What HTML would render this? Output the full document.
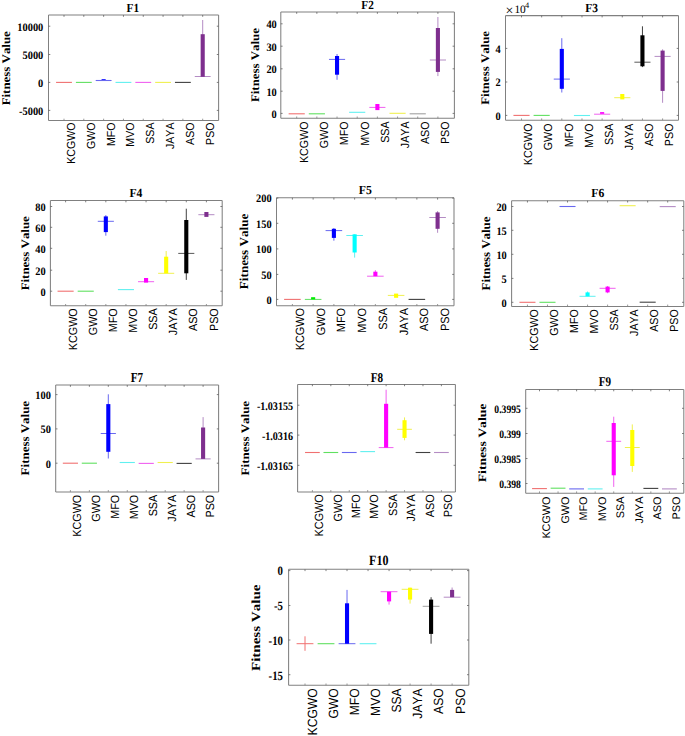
<!DOCTYPE html>
<html><head><meta charset="utf-8"><style>
html,body{margin:0;padding:0;background:#fff;}
svg{display:block;} text{font-kerning:none;text-rendering:geometricPrecision;}
.tk{font-family:"Liberation Serif",serif;font-weight:bold;font-size:10.4px;fill:#000;}
.ti{font-family:"Liberation Serif",serif;font-weight:bold;font-size:12.4px;fill:#000;}
.yl{font-family:"Liberation Serif",serif;font-weight:bold;font-size:12.92px;fill:#000;}
.xl{font-family:"Liberation Sans",sans-serif;font-size:10.75px;fill:#000;}
.ex{font-family:"Liberation Serif",serif;font-size:10px;fill:#000;}
</style></head><body>
<svg width="685" height="736" viewBox="0 0 685 736">
<rect width="685" height="736" fill="#fff"/>
<line x1="56.07" y1="82.4" x2="71.93" y2="82.4" stroke="#f07070" stroke-width="1.1"/>
<line x1="75.89" y1="82.4" x2="91.74" y2="82.4" stroke="#60e060" stroke-width="1.1"/>
<rect x="101.58" y="79.2" width="4.1" height="1.8" fill="#0000ff"/>
<line x1="95.7" y1="80.5" x2="111.55" y2="80.5" stroke="#6868f0" stroke-width="1.1"/>
<line x1="115.52" y1="82.4" x2="131.37" y2="82.4" stroke="#60f0f0" stroke-width="1.1"/>
<line x1="135.33" y1="82.4" x2="151.18" y2="82.4" stroke="#f060f0" stroke-width="1.1"/>
<line x1="155.15" y1="82.4" x2="171" y2="82.4" stroke="#f0f050" stroke-width="1.1"/>
<line x1="174.96" y1="82.4" x2="190.81" y2="82.4" stroke="#404040" stroke-width="1.1"/>
<line x1="202.7" y1="20" x2="202.7" y2="76.8" stroke="#b48cc4" stroke-width="1"/>
<line x1="194.77" y1="76.5" x2="210.63" y2="76.5" stroke="#b48cc4" stroke-width="1"/>
<rect x="200.65" y="34.2" width="4.1" height="42.6" fill="#7e2f8e"/>
<line x1="48.5" y1="15" x2="218.6" y2="15" stroke="#808080" stroke-width="1.05"/>
<line x1="218.6" y1="15" x2="218.6" y2="120.5" stroke="#808080" stroke-width="1.05"/>
<line x1="48.5" y1="120.5" x2="218.6" y2="120.5" stroke="#808080" stroke-width="1.05"/>
<line x1="48.5" y1="15" x2="48.5" y2="120.5" stroke="#808080" stroke-width="1.05"/>
<line x1="64" y1="120.5" x2="64" y2="118.7" stroke="#808080" stroke-width="0.8"/>
<line x1="64" y1="15" x2="64" y2="16.8" stroke="#606060" stroke-width="0.8"/>
<line x1="83.81" y1="120.5" x2="83.81" y2="118.7" stroke="#808080" stroke-width="0.8"/>
<line x1="83.81" y1="15" x2="83.81" y2="16.8" stroke="#606060" stroke-width="0.8"/>
<line x1="103.63" y1="120.5" x2="103.63" y2="118.7" stroke="#808080" stroke-width="0.8"/>
<line x1="103.63" y1="15" x2="103.63" y2="16.8" stroke="#606060" stroke-width="0.8"/>
<line x1="123.44" y1="120.5" x2="123.44" y2="118.7" stroke="#808080" stroke-width="0.8"/>
<line x1="123.44" y1="15" x2="123.44" y2="16.8" stroke="#606060" stroke-width="0.8"/>
<line x1="143.26" y1="120.5" x2="143.26" y2="118.7" stroke="#808080" stroke-width="0.8"/>
<line x1="143.26" y1="15" x2="143.26" y2="16.8" stroke="#606060" stroke-width="0.8"/>
<line x1="163.07" y1="120.5" x2="163.07" y2="118.7" stroke="#808080" stroke-width="0.8"/>
<line x1="163.07" y1="15" x2="163.07" y2="16.8" stroke="#606060" stroke-width="0.8"/>
<line x1="182.89" y1="120.5" x2="182.89" y2="118.7" stroke="#808080" stroke-width="0.8"/>
<line x1="182.89" y1="15" x2="182.89" y2="16.8" stroke="#606060" stroke-width="0.8"/>
<line x1="202.7" y1="120.5" x2="202.7" y2="118.7" stroke="#808080" stroke-width="0.8"/>
<line x1="202.7" y1="15" x2="202.7" y2="16.8" stroke="#606060" stroke-width="0.8"/>
<line x1="48.5" y1="26.2" x2="50.3" y2="26.2" stroke="#606060" stroke-width="0.8"/>
<line x1="218.6" y1="26.2" x2="216.8" y2="26.2" stroke="#606060" stroke-width="0.8"/>
<text class="tk" text-anchor="end" transform="translate(43.3,30.57) scale(1.0,1.1)">10000</text>
<line x1="48.5" y1="54.5" x2="50.3" y2="54.5" stroke="#606060" stroke-width="0.8"/>
<line x1="218.6" y1="54.5" x2="216.8" y2="54.5" stroke="#606060" stroke-width="0.8"/>
<text class="tk" text-anchor="end" transform="translate(43.3,58.87) scale(1.0,1.1)">5000</text>
<line x1="48.5" y1="82.4" x2="50.3" y2="82.4" stroke="#606060" stroke-width="0.8"/>
<line x1="218.6" y1="82.4" x2="216.8" y2="82.4" stroke="#606060" stroke-width="0.8"/>
<text class="tk" text-anchor="end" transform="translate(43.3,86.77) scale(1.0,1.1)">0</text>
<line x1="48.5" y1="110.4" x2="50.3" y2="110.4" stroke="#606060" stroke-width="0.8"/>
<line x1="218.6" y1="110.4" x2="216.8" y2="110.4" stroke="#606060" stroke-width="0.8"/>
<text class="tk" text-anchor="end" transform="translate(43.3,114.77) scale(1.0,1.1)">-5000</text>
<text class="xl" style="font-size:10.62px" text-anchor="end" transform="translate(75,122.5) rotate(-90) scale(1,1.1)">KCGWO</text>
<text class="xl" style="font-size:10.62px" text-anchor="end" transform="translate(94.81,122.5) rotate(-90) scale(1,1.1)">GWO</text>
<text class="xl" style="font-size:10.62px" text-anchor="end" transform="translate(114.63,122.5) rotate(-90) scale(1,1.1)">MFO</text>
<text class="xl" style="font-size:10.62px" text-anchor="end" transform="translate(134.44,122.5) rotate(-90) scale(1,1.1)">MVO</text>
<text class="xl" style="font-size:10.62px" text-anchor="end" transform="translate(154.26,122.5) rotate(-90) scale(1,1.1)">SSA</text>
<text class="xl" style="font-size:10.62px" text-anchor="end" transform="translate(174.07,122.5) rotate(-90) scale(1,1.1)">JAYA</text>
<text class="xl" style="font-size:10.62px" text-anchor="end" transform="translate(193.89,122.5) rotate(-90) scale(1,1.1)">ASO</text>
<text class="xl" style="font-size:10.62px" text-anchor="end" transform="translate(213.7,122.5) rotate(-90) scale(1,1.1)">PSO</text>
<text class="ti" text-anchor="middle" transform="translate(132.8,12.1) scale(0.91,1.0)">F1</text>
<text class="yl" style="font-size:12.92px" text-anchor="middle" transform="translate(10.2,68.25) rotate(-90) scale(1,0.9)">Fitness Value</text>
<line x1="288.63" y1="113.8" x2="304.77" y2="113.8" stroke="#f07070" stroke-width="1.1"/>
<line x1="308.8" y1="113.8" x2="324.94" y2="113.8" stroke="#60e060" stroke-width="1.1"/>
<line x1="337.04" y1="54" x2="337.04" y2="79.8" stroke="#6868f0" stroke-width="1"/>
<line x1="328.97" y1="59.4" x2="345.11" y2="59.4" stroke="#6868f0" stroke-width="1"/>
<rect x="334.99" y="56" width="4.1" height="18.7" fill="#0000ff"/>
<line x1="349.15" y1="112.3" x2="365.28" y2="112.3" stroke="#60f0f0" stroke-width="1.1"/>
<line x1="369.32" y1="107.4" x2="385.45" y2="107.4" stroke="#f060f0" stroke-width="1"/>
<rect x="375.34" y="104" width="4.1" height="6.1" fill="#ff00ff"/>
<line x1="389.49" y1="113.3" x2="405.63" y2="113.3" stroke="#f0f050" stroke-width="1.1"/>
<line x1="409.66" y1="113.8" x2="425.8" y2="113.8" stroke="#a0a0a0" stroke-width="1.1"/>
<line x1="437.9" y1="17" x2="437.9" y2="76.1" stroke="#b48cc4" stroke-width="1"/>
<line x1="429.83" y1="60" x2="445.97" y2="60" stroke="#b48cc4" stroke-width="1"/>
<rect x="435.85" y="28" width="4.1" height="43.9" fill="#7e2f8e"/>
<line x1="280.8" y1="12" x2="454.4" y2="12" stroke="#808080" stroke-width="1.05"/>
<line x1="454.4" y1="12" x2="454.4" y2="118.3" stroke="#808080" stroke-width="1.05"/>
<line x1="280.8" y1="118.3" x2="454.4" y2="118.3" stroke="#808080" stroke-width="1.05"/>
<line x1="280.8" y1="12" x2="280.8" y2="118.3" stroke="#808080" stroke-width="1.05"/>
<line x1="296.7" y1="118.3" x2="296.7" y2="116.5" stroke="#808080" stroke-width="0.8"/>
<line x1="296.7" y1="12" x2="296.7" y2="13.8" stroke="#606060" stroke-width="0.8"/>
<line x1="316.87" y1="118.3" x2="316.87" y2="116.5" stroke="#808080" stroke-width="0.8"/>
<line x1="316.87" y1="12" x2="316.87" y2="13.8" stroke="#606060" stroke-width="0.8"/>
<line x1="337.04" y1="118.3" x2="337.04" y2="116.5" stroke="#808080" stroke-width="0.8"/>
<line x1="337.04" y1="12" x2="337.04" y2="13.8" stroke="#606060" stroke-width="0.8"/>
<line x1="357.21" y1="118.3" x2="357.21" y2="116.5" stroke="#808080" stroke-width="0.8"/>
<line x1="357.21" y1="12" x2="357.21" y2="13.8" stroke="#606060" stroke-width="0.8"/>
<line x1="377.39" y1="118.3" x2="377.39" y2="116.5" stroke="#808080" stroke-width="0.8"/>
<line x1="377.39" y1="12" x2="377.39" y2="13.8" stroke="#606060" stroke-width="0.8"/>
<line x1="397.56" y1="118.3" x2="397.56" y2="116.5" stroke="#808080" stroke-width="0.8"/>
<line x1="397.56" y1="12" x2="397.56" y2="13.8" stroke="#606060" stroke-width="0.8"/>
<line x1="417.73" y1="118.3" x2="417.73" y2="116.5" stroke="#808080" stroke-width="0.8"/>
<line x1="417.73" y1="12" x2="417.73" y2="13.8" stroke="#606060" stroke-width="0.8"/>
<line x1="437.9" y1="118.3" x2="437.9" y2="116.5" stroke="#808080" stroke-width="0.8"/>
<line x1="437.9" y1="12" x2="437.9" y2="13.8" stroke="#606060" stroke-width="0.8"/>
<line x1="280.8" y1="23.8" x2="282.6" y2="23.8" stroke="#606060" stroke-width="0.8"/>
<line x1="454.4" y1="23.8" x2="452.6" y2="23.8" stroke="#606060" stroke-width="0.8"/>
<text class="tk" text-anchor="end" transform="translate(276.8,28.17) scale(1.0,1.1)">40</text>
<line x1="280.8" y1="46.2" x2="282.6" y2="46.2" stroke="#606060" stroke-width="0.8"/>
<line x1="454.4" y1="46.2" x2="452.6" y2="46.2" stroke="#606060" stroke-width="0.8"/>
<text class="tk" text-anchor="end" transform="translate(276.8,50.57) scale(1.0,1.1)">30</text>
<line x1="280.8" y1="68.8" x2="282.6" y2="68.8" stroke="#606060" stroke-width="0.8"/>
<line x1="454.4" y1="68.8" x2="452.6" y2="68.8" stroke="#606060" stroke-width="0.8"/>
<text class="tk" text-anchor="end" transform="translate(276.8,73.17) scale(1.0,1.1)">20</text>
<line x1="280.8" y1="91.2" x2="282.6" y2="91.2" stroke="#606060" stroke-width="0.8"/>
<line x1="454.4" y1="91.2" x2="452.6" y2="91.2" stroke="#606060" stroke-width="0.8"/>
<text class="tk" text-anchor="end" transform="translate(276.8,95.57) scale(1.0,1.1)">10</text>
<line x1="280.8" y1="113.4" x2="282.6" y2="113.4" stroke="#606060" stroke-width="0.8"/>
<line x1="454.4" y1="113.4" x2="452.6" y2="113.4" stroke="#606060" stroke-width="0.8"/>
<text class="tk" text-anchor="end" transform="translate(276.8,117.77) scale(1.0,1.1)">0</text>
<text class="xl" style="font-size:10.72px" text-anchor="end" transform="translate(308.1,121.4) rotate(-90) scale(1,1.1)">KCGWO</text>
<text class="xl" style="font-size:10.72px" text-anchor="end" transform="translate(328.27,121.4) rotate(-90) scale(1,1.1)">GWO</text>
<text class="xl" style="font-size:10.72px" text-anchor="end" transform="translate(348.44,121.4) rotate(-90) scale(1,1.1)">MFO</text>
<text class="xl" style="font-size:10.72px" text-anchor="end" transform="translate(368.61,121.4) rotate(-90) scale(1,1.1)">MVO</text>
<text class="xl" style="font-size:10.72px" text-anchor="end" transform="translate(388.79,121.4) rotate(-90) scale(1,1.1)">SSA</text>
<text class="xl" style="font-size:10.72px" text-anchor="end" transform="translate(408.96,121.4) rotate(-90) scale(1,1.1)">JAYA</text>
<text class="xl" style="font-size:10.72px" text-anchor="end" transform="translate(429.13,121.4) rotate(-90) scale(1,1.1)">ASO</text>
<text class="xl" style="font-size:10.72px" text-anchor="end" transform="translate(449.3,121.4) rotate(-90) scale(1,1.1)">PSO</text>
<text class="ti" text-anchor="middle" transform="translate(367.5,9.1) scale(0.91,1.0)">F2</text>
<text class="yl" style="font-size:12.87px" text-anchor="middle" transform="translate(258.9,65.1) rotate(-90) scale(1,0.9)">Fitness Value</text>
<line x1="513.44" y1="115.4" x2="529.56" y2="115.4" stroke="#f07070" stroke-width="1.1"/>
<line x1="533.59" y1="115.4" x2="549.72" y2="115.4" stroke="#60e060" stroke-width="1.1"/>
<line x1="561.81" y1="38.2" x2="561.81" y2="92.5" stroke="#6868f0" stroke-width="1"/>
<line x1="553.75" y1="79.1" x2="569.88" y2="79.1" stroke="#6868f0" stroke-width="1"/>
<rect x="559.76" y="48.9" width="4.1" height="39.9" fill="#0000ff"/>
<line x1="573.91" y1="115.5" x2="590.03" y2="115.5" stroke="#60f0f0" stroke-width="1.1"/>
<line x1="594.07" y1="114.2" x2="610.19" y2="114.2" stroke="#f060f0" stroke-width="1"/>
<rect x="600.08" y="112.1" width="4.1" height="1.7" fill="#ff00ff"/>
<line x1="614.22" y1="97.7" x2="630.35" y2="97.7" stroke="#f0f050" stroke-width="1"/>
<rect x="620.24" y="94" width="4.1" height="5.4" fill="#ffff00"/>
<line x1="642.44" y1="26.3" x2="642.44" y2="67.1" stroke="#404040" stroke-width="1"/>
<line x1="634.38" y1="62.2" x2="650.51" y2="62.2" stroke="#5a5a5a" stroke-width="1"/>
<rect x="640.39" y="35.3" width="4.1" height="31" fill="#000000"/>
<line x1="662.6" y1="49.3" x2="662.6" y2="102.8" stroke="#b48cc4" stroke-width="1"/>
<line x1="654.54" y1="56.4" x2="670.66" y2="56.4" stroke="#b48cc4" stroke-width="1"/>
<rect x="660.55" y="50.6" width="4.1" height="40.3" fill="#7e2f8e"/>
<line x1="505.5" y1="15.6" x2="678.5" y2="15.6" stroke="#808080" stroke-width="1.05"/>
<line x1="678.5" y1="15.6" x2="678.5" y2="120.2" stroke="#808080" stroke-width="1.05"/>
<line x1="505.5" y1="120.2" x2="678.5" y2="120.2" stroke="#808080" stroke-width="1.05"/>
<line x1="505.5" y1="15.6" x2="505.5" y2="120.2" stroke="#808080" stroke-width="1.05"/>
<line x1="521.5" y1="120.2" x2="521.5" y2="118.4" stroke="#808080" stroke-width="0.8"/>
<line x1="521.5" y1="15.6" x2="521.5" y2="17.4" stroke="#606060" stroke-width="0.8"/>
<line x1="541.66" y1="120.2" x2="541.66" y2="118.4" stroke="#808080" stroke-width="0.8"/>
<line x1="541.66" y1="15.6" x2="541.66" y2="17.4" stroke="#606060" stroke-width="0.8"/>
<line x1="561.81" y1="120.2" x2="561.81" y2="118.4" stroke="#808080" stroke-width="0.8"/>
<line x1="561.81" y1="15.6" x2="561.81" y2="17.4" stroke="#606060" stroke-width="0.8"/>
<line x1="581.97" y1="120.2" x2="581.97" y2="118.4" stroke="#808080" stroke-width="0.8"/>
<line x1="581.97" y1="15.6" x2="581.97" y2="17.4" stroke="#606060" stroke-width="0.8"/>
<line x1="602.13" y1="120.2" x2="602.13" y2="118.4" stroke="#808080" stroke-width="0.8"/>
<line x1="602.13" y1="15.6" x2="602.13" y2="17.4" stroke="#606060" stroke-width="0.8"/>
<line x1="622.29" y1="120.2" x2="622.29" y2="118.4" stroke="#808080" stroke-width="0.8"/>
<line x1="622.29" y1="15.6" x2="622.29" y2="17.4" stroke="#606060" stroke-width="0.8"/>
<line x1="642.44" y1="120.2" x2="642.44" y2="118.4" stroke="#808080" stroke-width="0.8"/>
<line x1="642.44" y1="15.6" x2="642.44" y2="17.4" stroke="#606060" stroke-width="0.8"/>
<line x1="662.6" y1="120.2" x2="662.6" y2="118.4" stroke="#808080" stroke-width="0.8"/>
<line x1="662.6" y1="15.6" x2="662.6" y2="17.4" stroke="#606060" stroke-width="0.8"/>
<line x1="505.5" y1="48.4" x2="507.3" y2="48.4" stroke="#606060" stroke-width="0.8"/>
<line x1="678.5" y1="48.4" x2="676.7" y2="48.4" stroke="#606060" stroke-width="0.8"/>
<text class="tk" text-anchor="end" transform="translate(500.7,52.77) scale(1.0,1.1)">4</text>
<line x1="505.5" y1="82" x2="507.3" y2="82" stroke="#606060" stroke-width="0.8"/>
<line x1="678.5" y1="82" x2="676.7" y2="82" stroke="#606060" stroke-width="0.8"/>
<text class="tk" text-anchor="end" transform="translate(500.7,86.37) scale(1.0,1.1)">2</text>
<line x1="505.5" y1="115.4" x2="507.3" y2="115.4" stroke="#606060" stroke-width="0.8"/>
<line x1="678.5" y1="115.4" x2="676.7" y2="115.4" stroke="#606060" stroke-width="0.8"/>
<text class="tk" text-anchor="end" transform="translate(500.7,119.77) scale(1.0,1.1)">0</text>
<text class="xl" style="font-size:10.72px" text-anchor="end" transform="translate(532.3,123.5) rotate(-90) scale(1,1.1)">KCGWO</text>
<text class="xl" style="font-size:10.72px" text-anchor="end" transform="translate(552.46,123.5) rotate(-90) scale(1,1.1)">GWO</text>
<text class="xl" style="font-size:10.72px" text-anchor="end" transform="translate(572.61,123.5) rotate(-90) scale(1,1.1)">MFO</text>
<text class="xl" style="font-size:10.72px" text-anchor="end" transform="translate(592.77,123.5) rotate(-90) scale(1,1.1)">MVO</text>
<text class="xl" style="font-size:10.72px" text-anchor="end" transform="translate(612.93,123.5) rotate(-90) scale(1,1.1)">SSA</text>
<text class="xl" style="font-size:10.72px" text-anchor="end" transform="translate(633.09,123.5) rotate(-90) scale(1,1.1)">JAYA</text>
<text class="xl" style="font-size:10.72px" text-anchor="end" transform="translate(653.24,123.5) rotate(-90) scale(1,1.1)">ASO</text>
<text class="xl" style="font-size:10.72px" text-anchor="end" transform="translate(673.4,123.5) rotate(-90) scale(1,1.1)">PSO</text>
<text class="ti" text-anchor="middle" transform="translate(591.7,12.1) scale(0.93,1.0)">F3</text>
<text class="yl" style="font-size:12.85px" text-anchor="middle" transform="translate(489,67.9) rotate(-90) scale(1,0.9)">Fitness Value</text>
<text x="505.6" y="14.9" class="ex" style="font-size:14px">&#215;</text>
<text x="514.4" y="12.9" class="ex" style="font-size:11.4px">10</text>
<text x="525.0" y="7.9" class="ex" style="font-size:8.4px">4</text>
<line x1="57.55" y1="291.2" x2="73.65" y2="291.2" stroke="#f07070" stroke-width="1.1"/>
<line x1="77.67" y1="291.2" x2="93.76" y2="291.2" stroke="#60e060" stroke-width="1.1"/>
<line x1="105.83" y1="215.1" x2="105.83" y2="235.7" stroke="#6868f0" stroke-width="1"/>
<line x1="97.78" y1="221.3" x2="113.87" y2="221.3" stroke="#6868f0" stroke-width="1"/>
<rect x="103.78" y="216.4" width="4.1" height="15.7" fill="#0000ff"/>
<line x1="117.9" y1="289.6" x2="133.99" y2="289.6" stroke="#60f0f0" stroke-width="1.1"/>
<line x1="138.01" y1="281.7" x2="154.1" y2="281.7" stroke="#f060f0" stroke-width="1"/>
<rect x="144.01" y="278" width="4.1" height="4.6" fill="#ff00ff"/>
<line x1="166.17" y1="251" x2="166.17" y2="273.3" stroke="#f0f050" stroke-width="1"/>
<line x1="158.13" y1="273.3" x2="174.22" y2="273.3" stroke="#f0f050" stroke-width="1"/>
<rect x="164.12" y="256.7" width="4.1" height="16.6" fill="#ffff00"/>
<line x1="186.29" y1="208.7" x2="186.29" y2="279.9" stroke="#404040" stroke-width="1"/>
<line x1="178.24" y1="253.4" x2="194.33" y2="253.4" stroke="#5a5a5a" stroke-width="1"/>
<rect x="184.24" y="220" width="4.1" height="53.3" fill="#000000"/>
<line x1="198.35" y1="214.7" x2="214.45" y2="214.7" stroke="#b48cc4" stroke-width="1"/>
<rect x="204.35" y="212" width="4.1" height="4.9" fill="#7e2f8e"/>
<line x1="50.4" y1="200.5" x2="222.2" y2="200.5" stroke="#808080" stroke-width="1.05"/>
<line x1="222.2" y1="200.5" x2="222.2" y2="305.8" stroke="#808080" stroke-width="1.05"/>
<line x1="50.4" y1="305.8" x2="222.2" y2="305.8" stroke="#808080" stroke-width="1.05"/>
<line x1="50.4" y1="200.5" x2="50.4" y2="305.8" stroke="#808080" stroke-width="1.05"/>
<line x1="65.6" y1="305.8" x2="65.6" y2="304" stroke="#808080" stroke-width="0.8"/>
<line x1="65.6" y1="200.5" x2="65.6" y2="202.3" stroke="#606060" stroke-width="0.8"/>
<line x1="85.71" y1="305.8" x2="85.71" y2="304" stroke="#808080" stroke-width="0.8"/>
<line x1="85.71" y1="200.5" x2="85.71" y2="202.3" stroke="#606060" stroke-width="0.8"/>
<line x1="105.83" y1="305.8" x2="105.83" y2="304" stroke="#808080" stroke-width="0.8"/>
<line x1="105.83" y1="200.5" x2="105.83" y2="202.3" stroke="#606060" stroke-width="0.8"/>
<line x1="125.94" y1="305.8" x2="125.94" y2="304" stroke="#808080" stroke-width="0.8"/>
<line x1="125.94" y1="200.5" x2="125.94" y2="202.3" stroke="#606060" stroke-width="0.8"/>
<line x1="146.06" y1="305.8" x2="146.06" y2="304" stroke="#808080" stroke-width="0.8"/>
<line x1="146.06" y1="200.5" x2="146.06" y2="202.3" stroke="#606060" stroke-width="0.8"/>
<line x1="166.17" y1="305.8" x2="166.17" y2="304" stroke="#808080" stroke-width="0.8"/>
<line x1="166.17" y1="200.5" x2="166.17" y2="202.3" stroke="#606060" stroke-width="0.8"/>
<line x1="186.29" y1="305.8" x2="186.29" y2="304" stroke="#808080" stroke-width="0.8"/>
<line x1="186.29" y1="200.5" x2="186.29" y2="202.3" stroke="#606060" stroke-width="0.8"/>
<line x1="206.4" y1="305.8" x2="206.4" y2="304" stroke="#808080" stroke-width="0.8"/>
<line x1="206.4" y1="200.5" x2="206.4" y2="202.3" stroke="#606060" stroke-width="0.8"/>
<line x1="50.4" y1="206.5" x2="52.2" y2="206.5" stroke="#606060" stroke-width="0.8"/>
<line x1="222.2" y1="206.5" x2="220.4" y2="206.5" stroke="#606060" stroke-width="0.8"/>
<text class="tk" text-anchor="end" transform="translate(45.6,210.87) scale(1.0,1.1)">80</text>
<line x1="50.4" y1="227.3" x2="52.2" y2="227.3" stroke="#606060" stroke-width="0.8"/>
<line x1="222.2" y1="227.3" x2="220.4" y2="227.3" stroke="#606060" stroke-width="0.8"/>
<text class="tk" text-anchor="end" transform="translate(45.6,231.67) scale(1.0,1.1)">60</text>
<line x1="50.4" y1="248.3" x2="52.2" y2="248.3" stroke="#606060" stroke-width="0.8"/>
<line x1="222.2" y1="248.3" x2="220.4" y2="248.3" stroke="#606060" stroke-width="0.8"/>
<text class="tk" text-anchor="end" transform="translate(45.6,252.67) scale(1.0,1.1)">40</text>
<line x1="50.4" y1="270.2" x2="52.2" y2="270.2" stroke="#606060" stroke-width="0.8"/>
<line x1="222.2" y1="270.2" x2="220.4" y2="270.2" stroke="#606060" stroke-width="0.8"/>
<text class="tk" text-anchor="end" transform="translate(45.6,274.57) scale(1.0,1.1)">20</text>
<line x1="50.4" y1="291.2" x2="52.2" y2="291.2" stroke="#606060" stroke-width="0.8"/>
<line x1="222.2" y1="291.2" x2="220.4" y2="291.2" stroke="#606060" stroke-width="0.8"/>
<text class="tk" text-anchor="end" transform="translate(45.6,295.57) scale(1.0,1.1)">0</text>
<text class="xl" style="font-size:10.78px" text-anchor="end" transform="translate(76.8,308.3) rotate(-90) scale(1,1.1)">KCGWO</text>
<text class="xl" style="font-size:10.78px" text-anchor="end" transform="translate(96.91,308.3) rotate(-90) scale(1,1.1)">GWO</text>
<text class="xl" style="font-size:10.78px" text-anchor="end" transform="translate(117.03,308.3) rotate(-90) scale(1,1.1)">MFO</text>
<text class="xl" style="font-size:10.78px" text-anchor="end" transform="translate(137.14,308.3) rotate(-90) scale(1,1.1)">MVO</text>
<text class="xl" style="font-size:10.78px" text-anchor="end" transform="translate(157.26,308.3) rotate(-90) scale(1,1.1)">SSA</text>
<text class="xl" style="font-size:10.78px" text-anchor="end" transform="translate(177.37,308.3) rotate(-90) scale(1,1.1)">JAYA</text>
<text class="xl" style="font-size:10.78px" text-anchor="end" transform="translate(197.49,308.3) rotate(-90) scale(1,1.1)">ASO</text>
<text class="xl" style="font-size:10.78px" text-anchor="end" transform="translate(217.6,308.3) rotate(-90) scale(1,1.1)">PSO</text>
<text class="ti" text-anchor="middle" transform="translate(135.95,197.1) scale(0.94,1.0)">F4</text>
<text class="yl" style="font-size:12.92px" text-anchor="middle" transform="translate(29.1,253.25) rotate(-90) scale(1,0.88)">Fitness Value</text>
<line x1="284.1" y1="299.4" x2="300.7" y2="299.4" stroke="#f07070" stroke-width="1.1"/>
<line x1="304.85" y1="299.4" x2="321.44" y2="299.4" stroke="#60e060" stroke-width="1"/>
<rect x="311.09" y="297.2" width="4.1" height="2.2" fill="#00ee00"/>
<line x1="333.89" y1="228" x2="333.89" y2="240.7" stroke="#6868f0" stroke-width="1"/>
<line x1="325.59" y1="230.6" x2="342.18" y2="230.6" stroke="#6868f0" stroke-width="1"/>
<rect x="331.84" y="228.8" width="4.1" height="9.1" fill="#0000ff"/>
<line x1="354.63" y1="234.3" x2="354.63" y2="257.6" stroke="#60f0f0" stroke-width="1"/>
<line x1="346.33" y1="235.5" x2="362.93" y2="235.5" stroke="#60f0f0" stroke-width="1"/>
<rect x="352.58" y="234.3" width="4.1" height="18.2" fill="#00ffff"/>
<line x1="375.37" y1="270.2" x2="375.37" y2="276.2" stroke="#f060f0" stroke-width="1"/>
<line x1="367.07" y1="276.2" x2="383.67" y2="276.2" stroke="#f060f0" stroke-width="1"/>
<rect x="373.32" y="271.7" width="4.1" height="4.5" fill="#ff00ff"/>
<line x1="387.82" y1="295.4" x2="404.41" y2="295.4" stroke="#f0f050" stroke-width="1"/>
<rect x="394.06" y="293.6" width="4.1" height="4.2" fill="#ffff00"/>
<line x1="408.56" y1="299.4" x2="425.15" y2="299.4" stroke="#404040" stroke-width="1.1"/>
<line x1="437.6" y1="211.1" x2="437.6" y2="232.8" stroke="#b48cc4" stroke-width="1"/>
<line x1="429.3" y1="217.5" x2="445.9" y2="217.5" stroke="#b48cc4" stroke-width="1"/>
<rect x="435.55" y="212.4" width="4.1" height="16.4" fill="#7e2f8e"/>
<line x1="276.5" y1="197.8" x2="454" y2="197.8" stroke="#808080" stroke-width="1.05"/>
<line x1="454" y1="197.8" x2="454" y2="305.8" stroke="#808080" stroke-width="1.05"/>
<line x1="276.5" y1="305.8" x2="454" y2="305.8" stroke="#808080" stroke-width="1.05"/>
<line x1="276.5" y1="197.8" x2="276.5" y2="305.8" stroke="#808080" stroke-width="1.05"/>
<line x1="292.4" y1="305.8" x2="292.4" y2="304" stroke="#808080" stroke-width="0.8"/>
<line x1="292.4" y1="197.8" x2="292.4" y2="199.6" stroke="#606060" stroke-width="0.8"/>
<line x1="313.14" y1="305.8" x2="313.14" y2="304" stroke="#808080" stroke-width="0.8"/>
<line x1="313.14" y1="197.8" x2="313.14" y2="199.6" stroke="#606060" stroke-width="0.8"/>
<line x1="333.89" y1="305.8" x2="333.89" y2="304" stroke="#808080" stroke-width="0.8"/>
<line x1="333.89" y1="197.8" x2="333.89" y2="199.6" stroke="#606060" stroke-width="0.8"/>
<line x1="354.63" y1="305.8" x2="354.63" y2="304" stroke="#808080" stroke-width="0.8"/>
<line x1="354.63" y1="197.8" x2="354.63" y2="199.6" stroke="#606060" stroke-width="0.8"/>
<line x1="375.37" y1="305.8" x2="375.37" y2="304" stroke="#808080" stroke-width="0.8"/>
<line x1="375.37" y1="197.8" x2="375.37" y2="199.6" stroke="#606060" stroke-width="0.8"/>
<line x1="396.11" y1="305.8" x2="396.11" y2="304" stroke="#808080" stroke-width="0.8"/>
<line x1="396.11" y1="197.8" x2="396.11" y2="199.6" stroke="#606060" stroke-width="0.8"/>
<line x1="416.86" y1="305.8" x2="416.86" y2="304" stroke="#808080" stroke-width="0.8"/>
<line x1="416.86" y1="197.8" x2="416.86" y2="199.6" stroke="#606060" stroke-width="0.8"/>
<line x1="437.6" y1="305.8" x2="437.6" y2="304" stroke="#808080" stroke-width="0.8"/>
<line x1="437.6" y1="197.8" x2="437.6" y2="199.6" stroke="#606060" stroke-width="0.8"/>
<line x1="276.5" y1="198.1" x2="278.3" y2="198.1" stroke="#606060" stroke-width="0.8"/>
<line x1="454" y1="198.1" x2="452.2" y2="198.1" stroke="#606060" stroke-width="0.8"/>
<text class="tk" text-anchor="end" transform="translate(271.7,202.47) scale(1.0,1.1)">200</text>
<line x1="276.5" y1="223.3" x2="278.3" y2="223.3" stroke="#606060" stroke-width="0.8"/>
<line x1="454" y1="223.3" x2="452.2" y2="223.3" stroke="#606060" stroke-width="0.8"/>
<text class="tk" text-anchor="end" transform="translate(271.7,227.67) scale(1.0,1.1)">150</text>
<line x1="276.5" y1="248.9" x2="278.3" y2="248.9" stroke="#606060" stroke-width="0.8"/>
<line x1="454" y1="248.9" x2="452.2" y2="248.9" stroke="#606060" stroke-width="0.8"/>
<text class="tk" text-anchor="end" transform="translate(271.7,253.27) scale(1.0,1.1)">100</text>
<line x1="276.5" y1="274.4" x2="278.3" y2="274.4" stroke="#606060" stroke-width="0.8"/>
<line x1="454" y1="274.4" x2="452.2" y2="274.4" stroke="#606060" stroke-width="0.8"/>
<text class="tk" text-anchor="end" transform="translate(271.7,278.77) scale(1.0,1.1)">50</text>
<line x1="276.5" y1="299.4" x2="278.3" y2="299.4" stroke="#606060" stroke-width="0.8"/>
<line x1="454" y1="299.4" x2="452.2" y2="299.4" stroke="#606060" stroke-width="0.8"/>
<text class="tk" text-anchor="end" transform="translate(271.7,303.77) scale(1.0,1.1)">0</text>
<text class="xl" style="font-size:10.88px" text-anchor="end" transform="translate(304,308) rotate(-90) scale(1,1.1)">KCGWO</text>
<text class="xl" style="font-size:10.88px" text-anchor="end" transform="translate(324.74,308) rotate(-90) scale(1,1.1)">GWO</text>
<text class="xl" style="font-size:10.88px" text-anchor="end" transform="translate(345.49,308) rotate(-90) scale(1,1.1)">MFO</text>
<text class="xl" style="font-size:10.88px" text-anchor="end" transform="translate(366.23,308) rotate(-90) scale(1,1.1)">MVO</text>
<text class="xl" style="font-size:10.88px" text-anchor="end" transform="translate(386.97,308) rotate(-90) scale(1,1.1)">SSA</text>
<text class="xl" style="font-size:10.88px" text-anchor="end" transform="translate(407.71,308) rotate(-90) scale(1,1.1)">JAYA</text>
<text class="xl" style="font-size:10.88px" text-anchor="end" transform="translate(428.46,308) rotate(-90) scale(1,1.1)">ASO</text>
<text class="xl" style="font-size:10.88px" text-anchor="end" transform="translate(449.2,308) rotate(-90) scale(1,1.1)">PSO</text>
<text class="ti" text-anchor="middle" transform="translate(365.35,194) scale(0.95,1.0)">F5</text>
<text class="yl" style="font-size:13.11px" text-anchor="middle" transform="translate(248.2,251.45) rotate(-90) scale(1,0.93)">Fitness Value</text>
<line x1="519.44" y1="302.3" x2="535.46" y2="302.3" stroke="#f07070" stroke-width="1.1"/>
<line x1="539.47" y1="302.3" x2="555.5" y2="302.3" stroke="#60e060" stroke-width="1.1"/>
<line x1="559.51" y1="206.5" x2="575.54" y2="206.5" stroke="#6868f0" stroke-width="1.1"/>
<line x1="587.56" y1="291.5" x2="587.56" y2="296.3" stroke="#60f0f0" stroke-width="1"/>
<line x1="579.54" y1="296.3" x2="595.57" y2="296.3" stroke="#60f0f0" stroke-width="1"/>
<rect x="585.51" y="292.4" width="4.1" height="3.9" fill="#00ffff"/>
<line x1="607.59" y1="286" x2="607.59" y2="293.2" stroke="#f060f0" stroke-width="1"/>
<line x1="599.58" y1="288.3" x2="615.61" y2="288.3" stroke="#f060f0" stroke-width="1"/>
<rect x="605.54" y="286.6" width="4.1" height="5.8" fill="#ff00ff"/>
<line x1="619.61" y1="205.7" x2="635.64" y2="205.7" stroke="#f0f050" stroke-width="1.1"/>
<line x1="639.65" y1="302.2" x2="655.68" y2="302.2" stroke="#404040" stroke-width="1.1"/>
<line x1="659.69" y1="206.6" x2="675.71" y2="206.6" stroke="#b48cc4" stroke-width="1.1"/>
<line x1="511.6" y1="200.7" x2="683.8" y2="200.7" stroke="#808080" stroke-width="1.05"/>
<line x1="683.8" y1="200.7" x2="683.8" y2="306.4" stroke="#808080" stroke-width="1.05"/>
<line x1="511.6" y1="306.4" x2="683.8" y2="306.4" stroke="#808080" stroke-width="1.05"/>
<line x1="511.6" y1="200.7" x2="511.6" y2="306.4" stroke="#808080" stroke-width="1.05"/>
<line x1="527.45" y1="306.4" x2="527.45" y2="304.6" stroke="#808080" stroke-width="0.8"/>
<line x1="527.45" y1="200.7" x2="527.45" y2="202.5" stroke="#606060" stroke-width="0.8"/>
<line x1="547.49" y1="306.4" x2="547.49" y2="304.6" stroke="#808080" stroke-width="0.8"/>
<line x1="547.49" y1="200.7" x2="547.49" y2="202.5" stroke="#606060" stroke-width="0.8"/>
<line x1="567.52" y1="306.4" x2="567.52" y2="304.6" stroke="#808080" stroke-width="0.8"/>
<line x1="567.52" y1="200.7" x2="567.52" y2="202.5" stroke="#606060" stroke-width="0.8"/>
<line x1="587.56" y1="306.4" x2="587.56" y2="304.6" stroke="#808080" stroke-width="0.8"/>
<line x1="587.56" y1="200.7" x2="587.56" y2="202.5" stroke="#606060" stroke-width="0.8"/>
<line x1="607.59" y1="306.4" x2="607.59" y2="304.6" stroke="#808080" stroke-width="0.8"/>
<line x1="607.59" y1="200.7" x2="607.59" y2="202.5" stroke="#606060" stroke-width="0.8"/>
<line x1="627.63" y1="306.4" x2="627.63" y2="304.6" stroke="#808080" stroke-width="0.8"/>
<line x1="627.63" y1="200.7" x2="627.63" y2="202.5" stroke="#606060" stroke-width="0.8"/>
<line x1="647.66" y1="306.4" x2="647.66" y2="304.6" stroke="#808080" stroke-width="0.8"/>
<line x1="647.66" y1="200.7" x2="647.66" y2="202.5" stroke="#606060" stroke-width="0.8"/>
<line x1="667.7" y1="306.4" x2="667.7" y2="304.6" stroke="#808080" stroke-width="0.8"/>
<line x1="667.7" y1="200.7" x2="667.7" y2="202.5" stroke="#606060" stroke-width="0.8"/>
<line x1="511.6" y1="206.5" x2="513.4" y2="206.5" stroke="#606060" stroke-width="0.8"/>
<line x1="683.8" y1="206.5" x2="682" y2="206.5" stroke="#606060" stroke-width="0.8"/>
<text class="tk" text-anchor="end" transform="translate(506.8,210.87) scale(1.0,1.1)">20</text>
<line x1="511.6" y1="230.3" x2="513.4" y2="230.3" stroke="#606060" stroke-width="0.8"/>
<line x1="683.8" y1="230.3" x2="682" y2="230.3" stroke="#606060" stroke-width="0.8"/>
<text class="tk" text-anchor="end" transform="translate(506.8,234.67) scale(1.0,1.1)">15</text>
<line x1="511.6" y1="254.3" x2="513.4" y2="254.3" stroke="#606060" stroke-width="0.8"/>
<line x1="683.8" y1="254.3" x2="682" y2="254.3" stroke="#606060" stroke-width="0.8"/>
<text class="tk" text-anchor="end" transform="translate(506.8,258.67) scale(1.0,1.1)">10</text>
<line x1="511.6" y1="278.4" x2="513.4" y2="278.4" stroke="#606060" stroke-width="0.8"/>
<line x1="683.8" y1="278.4" x2="682" y2="278.4" stroke="#606060" stroke-width="0.8"/>
<text class="tk" text-anchor="end" transform="translate(506.8,282.77) scale(1.0,1.1)">5</text>
<line x1="511.6" y1="302.3" x2="513.4" y2="302.3" stroke="#606060" stroke-width="0.8"/>
<line x1="683.8" y1="302.3" x2="682" y2="302.3" stroke="#606060" stroke-width="0.8"/>
<text class="tk" text-anchor="end" transform="translate(506.8,306.67) scale(1.0,1.1)">0</text>
<text class="xl" style="font-size:10.64px" text-anchor="end" transform="translate(537.65,309.3) rotate(-90) scale(1,1.1)">KCGWO</text>
<text class="xl" style="font-size:10.64px" text-anchor="end" transform="translate(557.69,309.3) rotate(-90) scale(1,1.1)">GWO</text>
<text class="xl" style="font-size:10.64px" text-anchor="end" transform="translate(577.72,309.3) rotate(-90) scale(1,1.1)">MFO</text>
<text class="xl" style="font-size:10.64px" text-anchor="end" transform="translate(597.76,309.3) rotate(-90) scale(1,1.1)">MVO</text>
<text class="xl" style="font-size:10.64px" text-anchor="end" transform="translate(617.79,309.3) rotate(-90) scale(1,1.1)">SSA</text>
<text class="xl" style="font-size:10.64px" text-anchor="end" transform="translate(637.83,309.3) rotate(-90) scale(1,1.1)">JAYA</text>
<text class="xl" style="font-size:10.64px" text-anchor="end" transform="translate(657.86,309.3) rotate(-90) scale(1,1.1)">ASO</text>
<text class="xl" style="font-size:10.64px" text-anchor="end" transform="translate(677.9,309.3) rotate(-90) scale(1,1.1)">PSO</text>
<text class="ti" text-anchor="middle" transform="translate(597.8,197.1) scale(0.94,1.0)">F6</text>
<text class="yl" style="font-size:12.87px" text-anchor="middle" transform="translate(489.8,253.5) rotate(-90) scale(1,0.93)">Fitness Value</text>
<line x1="62.82" y1="463.2" x2="77.98" y2="463.2" stroke="#f07070" stroke-width="1.1"/>
<line x1="81.77" y1="463.2" x2="96.94" y2="463.2" stroke="#60e060" stroke-width="1.1"/>
<line x1="108.31" y1="394.3" x2="108.31" y2="458.5" stroke="#6868f0" stroke-width="1"/>
<line x1="100.73" y1="433.5" x2="115.9" y2="433.5" stroke="#6868f0" stroke-width="1"/>
<rect x="106.26" y="404.1" width="4.1" height="47.7" fill="#0000ff"/>
<line x1="119.69" y1="462.5" x2="134.85" y2="462.5" stroke="#60f0f0" stroke-width="1.1"/>
<line x1="138.65" y1="463.4" x2="153.81" y2="463.4" stroke="#f060f0" stroke-width="1.1"/>
<line x1="157.6" y1="462.5" x2="172.77" y2="462.5" stroke="#f0f050" stroke-width="1.1"/>
<line x1="176.56" y1="463.4" x2="191.73" y2="463.4" stroke="#404040" stroke-width="1.1"/>
<line x1="203.1" y1="417.1" x2="203.1" y2="458.9" stroke="#b48cc4" stroke-width="1"/>
<line x1="195.52" y1="458.9" x2="210.68" y2="458.9" stroke="#b48cc4" stroke-width="1"/>
<rect x="201.05" y="427.5" width="4.1" height="31.4" fill="#7e2f8e"/>
<line x1="55.7" y1="385" x2="218.6" y2="385" stroke="#808080" stroke-width="1.05"/>
<line x1="218.6" y1="385" x2="218.6" y2="491.9" stroke="#808080" stroke-width="1.05"/>
<line x1="55.7" y1="491.9" x2="218.6" y2="491.9" stroke="#808080" stroke-width="1.05"/>
<line x1="55.7" y1="385" x2="55.7" y2="491.9" stroke="#808080" stroke-width="1.05"/>
<line x1="70.4" y1="491.9" x2="70.4" y2="490.1" stroke="#808080" stroke-width="0.8"/>
<line x1="70.4" y1="385" x2="70.4" y2="386.8" stroke="#606060" stroke-width="0.8"/>
<line x1="89.36" y1="491.9" x2="89.36" y2="490.1" stroke="#808080" stroke-width="0.8"/>
<line x1="89.36" y1="385" x2="89.36" y2="386.8" stroke="#606060" stroke-width="0.8"/>
<line x1="108.31" y1="491.9" x2="108.31" y2="490.1" stroke="#808080" stroke-width="0.8"/>
<line x1="108.31" y1="385" x2="108.31" y2="386.8" stroke="#606060" stroke-width="0.8"/>
<line x1="127.27" y1="491.9" x2="127.27" y2="490.1" stroke="#808080" stroke-width="0.8"/>
<line x1="127.27" y1="385" x2="127.27" y2="386.8" stroke="#606060" stroke-width="0.8"/>
<line x1="146.23" y1="491.9" x2="146.23" y2="490.1" stroke="#808080" stroke-width="0.8"/>
<line x1="146.23" y1="385" x2="146.23" y2="386.8" stroke="#606060" stroke-width="0.8"/>
<line x1="165.19" y1="491.9" x2="165.19" y2="490.1" stroke="#808080" stroke-width="0.8"/>
<line x1="165.19" y1="385" x2="165.19" y2="386.8" stroke="#606060" stroke-width="0.8"/>
<line x1="184.14" y1="491.9" x2="184.14" y2="490.1" stroke="#808080" stroke-width="0.8"/>
<line x1="184.14" y1="385" x2="184.14" y2="386.8" stroke="#606060" stroke-width="0.8"/>
<line x1="203.1" y1="491.9" x2="203.1" y2="490.1" stroke="#808080" stroke-width="0.8"/>
<line x1="203.1" y1="385" x2="203.1" y2="386.8" stroke="#606060" stroke-width="0.8"/>
<line x1="55.7" y1="394.6" x2="57.5" y2="394.6" stroke="#606060" stroke-width="0.8"/>
<line x1="218.6" y1="394.6" x2="216.8" y2="394.6" stroke="#606060" stroke-width="0.8"/>
<text class="tk" text-anchor="end" transform="translate(50.9,398.97) scale(1.0,1.1)">100</text>
<line x1="55.7" y1="428.9" x2="57.5" y2="428.9" stroke="#606060" stroke-width="0.8"/>
<line x1="218.6" y1="428.9" x2="216.8" y2="428.9" stroke="#606060" stroke-width="0.8"/>
<text class="tk" text-anchor="end" transform="translate(50.9,433.27) scale(1.0,1.1)">50</text>
<line x1="55.7" y1="463.2" x2="57.5" y2="463.2" stroke="#606060" stroke-width="0.8"/>
<line x1="218.6" y1="463.2" x2="216.8" y2="463.2" stroke="#606060" stroke-width="0.8"/>
<text class="tk" text-anchor="end" transform="translate(50.9,467.57) scale(1.0,1.1)">0</text>
<text class="xl" style="font-size:10.78px" text-anchor="end" transform="translate(81,494.8) rotate(-90) scale(1,1.1)">KCGWO</text>
<text class="xl" style="font-size:10.78px" text-anchor="end" transform="translate(99.96,494.8) rotate(-90) scale(1,1.1)">GWO</text>
<text class="xl" style="font-size:10.78px" text-anchor="end" transform="translate(118.91,494.8) rotate(-90) scale(1,1.1)">MFO</text>
<text class="xl" style="font-size:10.78px" text-anchor="end" transform="translate(137.87,494.8) rotate(-90) scale(1,1.1)">MVO</text>
<text class="xl" style="font-size:10.78px" text-anchor="end" transform="translate(156.83,494.8) rotate(-90) scale(1,1.1)">SSA</text>
<text class="xl" style="font-size:10.78px" text-anchor="end" transform="translate(175.79,494.8) rotate(-90) scale(1,1.1)">JAYA</text>
<text class="xl" style="font-size:10.78px" text-anchor="end" transform="translate(194.74,494.8) rotate(-90) scale(1,1.1)">ASO</text>
<text class="xl" style="font-size:10.78px" text-anchor="end" transform="translate(213.7,494.8) rotate(-90) scale(1,1.1)">PSO</text>
<text class="ti" text-anchor="middle" transform="translate(137,381.7) scale(0.9,1.1)">F7</text>
<text class="yl" style="font-size:12.96px" text-anchor="middle" transform="translate(29,438.15) rotate(-90) scale(1,0.9)">Fitness Value</text>
<line x1="305.03" y1="452.5" x2="319.77" y2="452.5" stroke="#f07070" stroke-width="1.1"/>
<line x1="323.46" y1="452.5" x2="338.2" y2="452.5" stroke="#60e060" stroke-width="1.1"/>
<line x1="341.89" y1="452.5" x2="356.63" y2="452.5" stroke="#6868f0" stroke-width="1.1"/>
<line x1="360.31" y1="451.6" x2="375.06" y2="451.6" stroke="#60f0f0" stroke-width="1.1"/>
<line x1="386.11" y1="389.7" x2="386.11" y2="447.6" stroke="#f060f0" stroke-width="1"/>
<line x1="378.74" y1="447.6" x2="393.49" y2="447.6" stroke="#f060f0" stroke-width="1"/>
<rect x="384.06" y="403.8" width="4.1" height="43.8" fill="#ff00ff"/>
<line x1="404.54" y1="417.4" x2="404.54" y2="440.3" stroke="#f0f050" stroke-width="1"/>
<line x1="397.17" y1="429.3" x2="411.91" y2="429.3" stroke="#f0f050" stroke-width="1"/>
<rect x="402.49" y="420.2" width="4.1" height="17.7" fill="#ffff00"/>
<line x1="415.6" y1="452.5" x2="430.34" y2="452.5" stroke="#404040" stroke-width="1.1"/>
<line x1="434.03" y1="452.5" x2="448.77" y2="452.5" stroke="#b48cc4" stroke-width="1.1"/>
<line x1="297.6" y1="384.4" x2="455.4" y2="384.4" stroke="#808080" stroke-width="1.05"/>
<line x1="455.4" y1="384.4" x2="455.4" y2="491.9" stroke="#808080" stroke-width="1.05"/>
<line x1="297.6" y1="491.9" x2="455.4" y2="491.9" stroke="#808080" stroke-width="1.05"/>
<line x1="297.6" y1="384.4" x2="297.6" y2="491.9" stroke="#808080" stroke-width="1.05"/>
<line x1="312.4" y1="491.9" x2="312.4" y2="490.1" stroke="#808080" stroke-width="0.8"/>
<line x1="312.4" y1="384.4" x2="312.4" y2="386.2" stroke="#606060" stroke-width="0.8"/>
<line x1="330.83" y1="491.9" x2="330.83" y2="490.1" stroke="#808080" stroke-width="0.8"/>
<line x1="330.83" y1="384.4" x2="330.83" y2="386.2" stroke="#606060" stroke-width="0.8"/>
<line x1="349.26" y1="491.9" x2="349.26" y2="490.1" stroke="#808080" stroke-width="0.8"/>
<line x1="349.26" y1="384.4" x2="349.26" y2="386.2" stroke="#606060" stroke-width="0.8"/>
<line x1="367.69" y1="491.9" x2="367.69" y2="490.1" stroke="#808080" stroke-width="0.8"/>
<line x1="367.69" y1="384.4" x2="367.69" y2="386.2" stroke="#606060" stroke-width="0.8"/>
<line x1="386.11" y1="491.9" x2="386.11" y2="490.1" stroke="#808080" stroke-width="0.8"/>
<line x1="386.11" y1="384.4" x2="386.11" y2="386.2" stroke="#606060" stroke-width="0.8"/>
<line x1="404.54" y1="491.9" x2="404.54" y2="490.1" stroke="#808080" stroke-width="0.8"/>
<line x1="404.54" y1="384.4" x2="404.54" y2="386.2" stroke="#606060" stroke-width="0.8"/>
<line x1="422.97" y1="491.9" x2="422.97" y2="490.1" stroke="#808080" stroke-width="0.8"/>
<line x1="422.97" y1="384.4" x2="422.97" y2="386.2" stroke="#606060" stroke-width="0.8"/>
<line x1="441.4" y1="491.9" x2="441.4" y2="490.1" stroke="#808080" stroke-width="0.8"/>
<line x1="441.4" y1="384.4" x2="441.4" y2="386.2" stroke="#606060" stroke-width="0.8"/>
<line x1="297.6" y1="405.2" x2="299.4" y2="405.2" stroke="#606060" stroke-width="0.8"/>
<line x1="455.4" y1="405.2" x2="453.6" y2="405.2" stroke="#606060" stroke-width="0.8"/>
<text class="tk" text-anchor="end" transform="translate(293,409.64) scale(0.97,1.12)">-1.03155</text>
<line x1="297.6" y1="435.1" x2="299.4" y2="435.1" stroke="#606060" stroke-width="0.8"/>
<line x1="455.4" y1="435.1" x2="453.6" y2="435.1" stroke="#606060" stroke-width="0.8"/>
<text class="tk" text-anchor="end" transform="translate(293,439.54) scale(0.97,1.12)">-1.0316</text>
<line x1="297.6" y1="465.3" x2="299.4" y2="465.3" stroke="#606060" stroke-width="0.8"/>
<line x1="455.4" y1="465.3" x2="453.6" y2="465.3" stroke="#606060" stroke-width="0.8"/>
<text class="tk" text-anchor="end" transform="translate(293,469.74) scale(0.97,1.12)">-1.03165</text>
<text class="xl" style="font-size:10.83px" text-anchor="end" transform="translate(323.1,494.3) rotate(-90) scale(1,1.1)">KCGWO</text>
<text class="xl" style="font-size:10.83px" text-anchor="end" transform="translate(341.53,494.3) rotate(-90) scale(1,1.1)">GWO</text>
<text class="xl" style="font-size:10.83px" text-anchor="end" transform="translate(359.96,494.3) rotate(-90) scale(1,1.1)">MFO</text>
<text class="xl" style="font-size:10.83px" text-anchor="end" transform="translate(378.39,494.3) rotate(-90) scale(1,1.1)">MVO</text>
<text class="xl" style="font-size:10.83px" text-anchor="end" transform="translate(396.81,494.3) rotate(-90) scale(1,1.1)">SSA</text>
<text class="xl" style="font-size:10.83px" text-anchor="end" transform="translate(415.24,494.3) rotate(-90) scale(1,1.1)">JAYA</text>
<text class="xl" style="font-size:10.83px" text-anchor="end" transform="translate(433.67,494.3) rotate(-90) scale(1,1.1)">ASO</text>
<text class="xl" style="font-size:10.83px" text-anchor="end" transform="translate(452.1,494.3) rotate(-90) scale(1,1.1)">PSO</text>
<text class="ti" text-anchor="middle" transform="translate(377,381.8) scale(0.9,1.08)">F8</text>
<text class="yl" style="font-size:12.96px" text-anchor="middle" transform="translate(248.9,438.15) rotate(-90) scale(1,0.88)">Fitness Value</text>
<line x1="532.08" y1="488.6" x2="546.92" y2="488.6" stroke="#f07070" stroke-width="1.1"/>
<line x1="550.63" y1="488.2" x2="565.48" y2="488.2" stroke="#60e060" stroke-width="1.1"/>
<line x1="569.19" y1="488.9" x2="584.04" y2="488.9" stroke="#6868f0" stroke-width="1.1"/>
<line x1="587.75" y1="488.9" x2="602.59" y2="488.9" stroke="#60f0f0" stroke-width="1.1"/>
<line x1="613.73" y1="416.7" x2="613.73" y2="486.9" stroke="#f060f0" stroke-width="1"/>
<line x1="606.31" y1="441.3" x2="621.15" y2="441.3" stroke="#f060f0" stroke-width="1"/>
<rect x="611.68" y="423" width="4.1" height="52.3" fill="#ff00ff"/>
<line x1="632.29" y1="424.4" x2="632.29" y2="471.9" stroke="#f0f050" stroke-width="1"/>
<line x1="624.86" y1="447.5" x2="639.71" y2="447.5" stroke="#f0f050" stroke-width="1"/>
<rect x="630.24" y="430" width="4.1" height="36" fill="#ffff00"/>
<line x1="643.42" y1="488.4" x2="658.27" y2="488.4" stroke="#404040" stroke-width="1.1"/>
<line x1="661.98" y1="488.9" x2="676.82" y2="488.9" stroke="#b48cc4" stroke-width="1.1"/>
<line x1="525.7" y1="389.5" x2="683.8" y2="389.5" stroke="#808080" stroke-width="1.05"/>
<line x1="683.8" y1="389.5" x2="683.8" y2="493.2" stroke="#808080" stroke-width="1.05"/>
<line x1="525.7" y1="493.2" x2="683.8" y2="493.2" stroke="#808080" stroke-width="1.05"/>
<line x1="525.7" y1="389.5" x2="525.7" y2="493.2" stroke="#808080" stroke-width="1.05"/>
<line x1="539.5" y1="493.2" x2="539.5" y2="491.4" stroke="#808080" stroke-width="0.8"/>
<line x1="539.5" y1="389.5" x2="539.5" y2="391.3" stroke="#606060" stroke-width="0.8"/>
<line x1="558.06" y1="493.2" x2="558.06" y2="491.4" stroke="#808080" stroke-width="0.8"/>
<line x1="558.06" y1="389.5" x2="558.06" y2="391.3" stroke="#606060" stroke-width="0.8"/>
<line x1="576.61" y1="493.2" x2="576.61" y2="491.4" stroke="#808080" stroke-width="0.8"/>
<line x1="576.61" y1="389.5" x2="576.61" y2="391.3" stroke="#606060" stroke-width="0.8"/>
<line x1="595.17" y1="493.2" x2="595.17" y2="491.4" stroke="#808080" stroke-width="0.8"/>
<line x1="595.17" y1="389.5" x2="595.17" y2="391.3" stroke="#606060" stroke-width="0.8"/>
<line x1="613.73" y1="493.2" x2="613.73" y2="491.4" stroke="#808080" stroke-width="0.8"/>
<line x1="613.73" y1="389.5" x2="613.73" y2="391.3" stroke="#606060" stroke-width="0.8"/>
<line x1="632.29" y1="493.2" x2="632.29" y2="491.4" stroke="#808080" stroke-width="0.8"/>
<line x1="632.29" y1="389.5" x2="632.29" y2="391.3" stroke="#606060" stroke-width="0.8"/>
<line x1="650.84" y1="493.2" x2="650.84" y2="491.4" stroke="#808080" stroke-width="0.8"/>
<line x1="650.84" y1="389.5" x2="650.84" y2="391.3" stroke="#606060" stroke-width="0.8"/>
<line x1="669.4" y1="493.2" x2="669.4" y2="491.4" stroke="#808080" stroke-width="0.8"/>
<line x1="669.4" y1="389.5" x2="669.4" y2="391.3" stroke="#606060" stroke-width="0.8"/>
<line x1="525.7" y1="408.3" x2="527.5" y2="408.3" stroke="#606060" stroke-width="0.8"/>
<line x1="683.8" y1="408.3" x2="682" y2="408.3" stroke="#606060" stroke-width="0.8"/>
<text class="tk" text-anchor="end" transform="translate(520.9,412.67) scale(0.93,1.1)">0.3995</text>
<line x1="525.7" y1="433.5" x2="527.5" y2="433.5" stroke="#606060" stroke-width="0.8"/>
<line x1="683.8" y1="433.5" x2="682" y2="433.5" stroke="#606060" stroke-width="0.8"/>
<text class="tk" text-anchor="end" transform="translate(520.9,437.87) scale(0.93,1.1)">0.399</text>
<line x1="525.7" y1="458.5" x2="527.5" y2="458.5" stroke="#606060" stroke-width="0.8"/>
<line x1="683.8" y1="458.5" x2="682" y2="458.5" stroke="#606060" stroke-width="0.8"/>
<text class="tk" text-anchor="end" transform="translate(520.9,462.87) scale(0.93,1.1)">0.3985</text>
<line x1="525.7" y1="483.5" x2="527.5" y2="483.5" stroke="#606060" stroke-width="0.8"/>
<line x1="683.8" y1="483.5" x2="682" y2="483.5" stroke="#606060" stroke-width="0.8"/>
<text class="tk" text-anchor="end" transform="translate(520.9,487.87) scale(0.93,1.1)">0.398</text>
<text class="xl" style="font-size:10.83px" text-anchor="end" transform="translate(550,496.5) rotate(-90) scale(1,1.02)">KCGWO</text>
<text class="xl" style="font-size:10.83px" text-anchor="end" transform="translate(568.56,496.5) rotate(-90) scale(1,1.02)">GWO</text>
<text class="xl" style="font-size:10.83px" text-anchor="end" transform="translate(587.11,496.5) rotate(-90) scale(1,1.02)">MFO</text>
<text class="xl" style="font-size:10.83px" text-anchor="end" transform="translate(605.67,496.5) rotate(-90) scale(1,1.02)">MVO</text>
<text class="xl" style="font-size:10.83px" text-anchor="end" transform="translate(624.23,496.5) rotate(-90) scale(1,1.02)">SSA</text>
<text class="xl" style="font-size:10.83px" text-anchor="end" transform="translate(642.79,496.5) rotate(-90) scale(1,1.02)">JAYA</text>
<text class="xl" style="font-size:10.83px" text-anchor="end" transform="translate(661.34,496.5) rotate(-90) scale(1,1.02)">ASO</text>
<text class="xl" style="font-size:10.83px" text-anchor="end" transform="translate(679.9,496.5) rotate(-90) scale(1,1.02)">PSO</text>
<text class="ti" text-anchor="middle" transform="translate(604.9,385.7) scale(0.9,1.08)">F9</text>
<text class="yl" style="font-size:13.68px" text-anchor="middle" transform="translate(485.9,442.95) rotate(-90) scale(1,0.82)">Fitness Value</text>
<line x1="305" y1="636.3" x2="305" y2="650.8" stroke="#f07070" stroke-width="1"/>
<line x1="296.59" y1="643.7" x2="313.41" y2="643.7" stroke="#f07070" stroke-width="1"/>
<line x1="317.61" y1="643.7" x2="334.42" y2="643.7" stroke="#60e060" stroke-width="1.1"/>
<line x1="347.03" y1="589.9" x2="347.03" y2="643.7" stroke="#6868f0" stroke-width="1"/>
<line x1="338.62" y1="643.7" x2="355.43" y2="643.7" stroke="#6868f0" stroke-width="1"/>
<rect x="344.98" y="603.3" width="4.1" height="40.4" fill="#0000ff"/>
<line x1="359.64" y1="643.7" x2="376.45" y2="643.7" stroke="#60f0f0" stroke-width="1.1"/>
<line x1="389.06" y1="591.7" x2="389.06" y2="604.6" stroke="#f060f0" stroke-width="1"/>
<line x1="380.65" y1="591.7" x2="397.46" y2="591.7" stroke="#f060f0" stroke-width="1"/>
<rect x="387.01" y="591.7" width="4.1" height="9.7" fill="#ff00ff"/>
<line x1="410.07" y1="587.7" x2="410.07" y2="603.6" stroke="#f0f050" stroke-width="1"/>
<line x1="401.67" y1="589.3" x2="418.48" y2="589.3" stroke="#f0f050" stroke-width="1"/>
<rect x="408.02" y="587.7" width="4.1" height="11.9" fill="#ffff00"/>
<line x1="431.09" y1="597.2" x2="431.09" y2="643.7" stroke="#404040" stroke-width="1"/>
<line x1="422.68" y1="606.3" x2="439.49" y2="606.3" stroke="#a0a0a0" stroke-width="1"/>
<rect x="429.04" y="599.6" width="4.1" height="34.3" fill="#000000"/>
<line x1="452.1" y1="587.5" x2="452.1" y2="597.2" stroke="#b48cc4" stroke-width="1"/>
<line x1="443.69" y1="597.2" x2="460.51" y2="597.2" stroke="#b48cc4" stroke-width="1"/>
<rect x="450.05" y="589.9" width="4.1" height="7.3" fill="#7e2f8e"/>
<line x1="288.6" y1="569.3" x2="468.8" y2="569.3" stroke="#808080" stroke-width="1.05"/>
<line x1="468.8" y1="569.3" x2="468.8" y2="685.3" stroke="#808080" stroke-width="1.05"/>
<line x1="288.6" y1="685.3" x2="468.8" y2="685.3" stroke="#808080" stroke-width="1.05"/>
<line x1="288.6" y1="569.3" x2="288.6" y2="685.3" stroke="#808080" stroke-width="1.05"/>
<line x1="305" y1="685.3" x2="305" y2="683.5" stroke="#808080" stroke-width="0.8"/>
<line x1="305" y1="569.3" x2="305" y2="571.1" stroke="#606060" stroke-width="0.8"/>
<line x1="326.01" y1="685.3" x2="326.01" y2="683.5" stroke="#808080" stroke-width="0.8"/>
<line x1="326.01" y1="569.3" x2="326.01" y2="571.1" stroke="#606060" stroke-width="0.8"/>
<line x1="347.03" y1="685.3" x2="347.03" y2="683.5" stroke="#808080" stroke-width="0.8"/>
<line x1="347.03" y1="569.3" x2="347.03" y2="571.1" stroke="#606060" stroke-width="0.8"/>
<line x1="368.04" y1="685.3" x2="368.04" y2="683.5" stroke="#808080" stroke-width="0.8"/>
<line x1="368.04" y1="569.3" x2="368.04" y2="571.1" stroke="#606060" stroke-width="0.8"/>
<line x1="389.06" y1="685.3" x2="389.06" y2="683.5" stroke="#808080" stroke-width="0.8"/>
<line x1="389.06" y1="569.3" x2="389.06" y2="571.1" stroke="#606060" stroke-width="0.8"/>
<line x1="410.07" y1="685.3" x2="410.07" y2="683.5" stroke="#808080" stroke-width="0.8"/>
<line x1="410.07" y1="569.3" x2="410.07" y2="571.1" stroke="#606060" stroke-width="0.8"/>
<line x1="431.09" y1="685.3" x2="431.09" y2="683.5" stroke="#808080" stroke-width="0.8"/>
<line x1="431.09" y1="569.3" x2="431.09" y2="571.1" stroke="#606060" stroke-width="0.8"/>
<line x1="452.1" y1="685.3" x2="452.1" y2="683.5" stroke="#808080" stroke-width="0.8"/>
<line x1="452.1" y1="569.3" x2="452.1" y2="571.1" stroke="#606060" stroke-width="0.8"/>
<line x1="288.6" y1="570.6" x2="290.4" y2="570.6" stroke="#606060" stroke-width="0.8"/>
<line x1="468.8" y1="570.6" x2="467" y2="570.6" stroke="#606060" stroke-width="0.8"/>
<text class="tk" text-anchor="end" transform="translate(283,575.42) scale(1.04,1.23)">0</text>
<line x1="288.6" y1="605.5" x2="290.4" y2="605.5" stroke="#606060" stroke-width="0.8"/>
<line x1="468.8" y1="605.5" x2="467" y2="605.5" stroke="#606060" stroke-width="0.8"/>
<text class="tk" text-anchor="end" transform="translate(283,610.32) scale(1.04,1.23)">-5</text>
<line x1="288.6" y1="640" x2="290.4" y2="640" stroke="#606060" stroke-width="0.8"/>
<line x1="468.8" y1="640" x2="467" y2="640" stroke="#606060" stroke-width="0.8"/>
<text class="tk" text-anchor="end" transform="translate(283,644.82) scale(1.04,1.23)">-10</text>
<line x1="288.6" y1="674.7" x2="290.4" y2="674.7" stroke="#606060" stroke-width="0.8"/>
<line x1="468.8" y1="674.7" x2="467" y2="674.7" stroke="#606060" stroke-width="0.8"/>
<text class="tk" text-anchor="end" transform="translate(283,679.52) scale(1.04,1.23)">-15</text>
<text class="xl" style="font-size:12.13px" text-anchor="end" transform="translate(317.4,688.3) rotate(-90) scale(1,1.1)">KCGWO</text>
<text class="xl" style="font-size:12.13px" text-anchor="end" transform="translate(338.41,688.3) rotate(-90) scale(1,1.1)">GWO</text>
<text class="xl" style="font-size:12.13px" text-anchor="end" transform="translate(359.43,688.3) rotate(-90) scale(1,1.1)">MFO</text>
<text class="xl" style="font-size:12.13px" text-anchor="end" transform="translate(380.44,688.3) rotate(-90) scale(1,1.1)">MVO</text>
<text class="xl" style="font-size:12.13px" text-anchor="end" transform="translate(401.46,688.3) rotate(-90) scale(1,1.1)">SSA</text>
<text class="xl" style="font-size:12.13px" text-anchor="end" transform="translate(422.47,688.3) rotate(-90) scale(1,1.1)">JAYA</text>
<text class="xl" style="font-size:12.13px" text-anchor="end" transform="translate(443.49,688.3) rotate(-90) scale(1,1.1)">ASO</text>
<text class="xl" style="font-size:12.13px" text-anchor="end" transform="translate(464.5,688.3) rotate(-90) scale(1,1.1)">PSO</text>
<text class="ti" text-anchor="middle" transform="translate(378.8,565.2) scale(0.97,1.14)">F10</text>
<text class="yl" style="font-size:15.05px" text-anchor="middle" transform="translate(260.1,627.8) rotate(-90) scale(1,0.82)">Fitness Value</text>
</svg>
</body></html>
